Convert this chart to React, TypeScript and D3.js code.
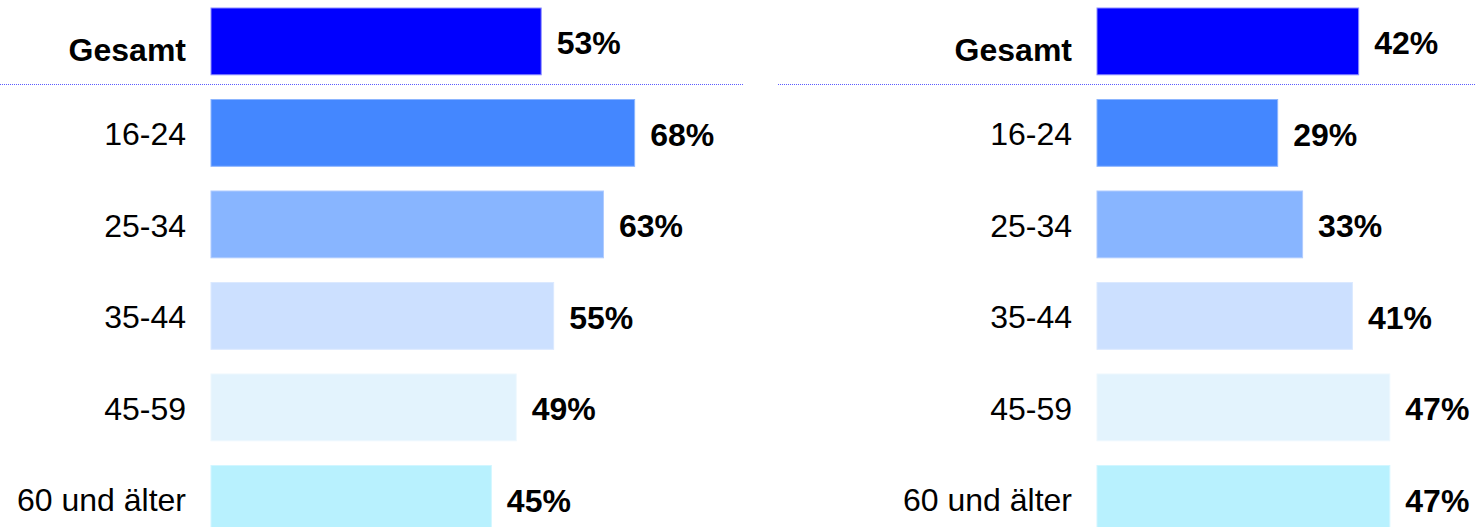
import React from 'react'
import * as d3 from 'd3'

// Altersgruppen, zwei Vergleichsblöcke nebeneinander
const categories = ['Gesamt', '16-24', '25-34', '35-44', '45-59', '60 und älter']
const leftValues = [53, 68, 63, 55, 49, 45]
const rightValues = [42, 29, 33, 41, 47, 47]
const barColors = ['#0000ff', '#4487ff', '#88b5ff', '#cce0ff', '#e3f3fd', '#b8f1fe']
const barStrokes = ['#8c8cff', '#8cb5ff', '#b0ccff', '#dbe9ff', '#eef8fe', '#d2f6ff']

const W = 1476
const H = 527
const FONT = 'Arial, "Liberation Sans", Helvetica, sans-serif'

const y = d3.scaleBand<string>()
  .domain(categories)
  .range([-4.35, 544.65])
  .paddingInner(0.27)
  .paddingOuter(0.135)

// 100% = 623px
const x = d3.scaleLinear().domain([0, 100]).range([0, 623])

function Panel({values, x0, lineFrom, lineTo}: {values: number[], x0: number, lineFrom: number, lineTo: number}) {
  const sepY = 84.5
  return (
    <g>
      <line x1={lineFrom} x2={lineTo} y1={sepY} y2={sepY}
        stroke="#5c5cff" strokeWidth={1} strokeDasharray="1,1" />
      {categories.map((c, i) => {
        const by = y(c)!
        const bh = y.bandwidth()
        const cy = by + bh / 2
        const w = x(values[i])
        return (
          <g key={c}>
            <rect x={x0} y={by} width={w} height={bh}
              fill={barColors[i]} stroke={barStrokes[i]} strokeWidth={1} />
            <text x={x0 - 25} y={i === 0 ? cy + 20 : cy + 12.5}
              textAnchor="end" fontFamily={FONT} fontSize={32}
              fontWeight={i === 0 ? 'bold' : 'normal'} fill="#000">{c}</text>
            <text x={x0 + w + 15.5} y={cy + 13}
              fontFamily={FONT} fontSize={32} fontWeight="bold" fill="#000">{values[i]}%</text>
          </g>
        )
      })}
    </g>
  )
}

export default function App() {
  return (
    <div style={{position: 'fixed', left: 0, top: 0, width: W, height: H, overflow: 'hidden', background: '#fff'}}>
      <svg width={W} height={H} style={{display: 'block'}}>
        <rect width={W} height={H} fill="#fff" />
        <Panel values={leftValues} x0={211} lineFrom={0} lineTo={743} />
        <Panel values={rightValues} x0={1097} lineFrom={778} lineTo={W} />
      </svg>
    </div>
  )
}
